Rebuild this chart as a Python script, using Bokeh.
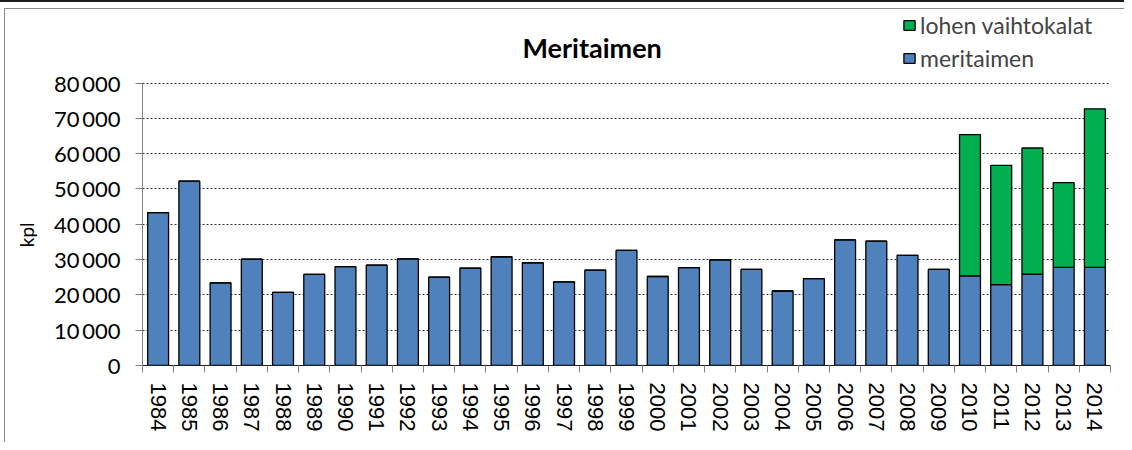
from bokeh.plotting import figure
from bokeh.models import ColumnDataSource, Range1d, FixedTicker, Legend, LegendItem, Label
from bokeh.embed import file_html
from bokeh.resources import INLINE

years = ["1984", "1985", "1986", "1987", "1988", "1989", "1990", "1991", "1992", "1993",
         "1994", "1995", "1996", "1997", "1998", "1999", "2000", "2001", "2002", "2003",
         "2004", "2005", "2006", "2007", "2008", "2009", "2010", "2011", "2012", "2013", "2014"]
meritaimen = [43300, 52200, 23400, 30100, 20700, 25800, 28000, 28400, 30200, 25000,
              27600, 30800, 29100, 23700, 27000, 32600, 25200, 27700, 29900, 27200,
              21100, 24600, 35600, 35200, 31200, 27200, 25400, 22900, 25900, 27800, 27800]
lohen_vaihtokalat = [0, 0, 0, 0, 0, 0, 0, 0, 0, 0,
                     0, 0, 0, 0, 0, 0, 0, 0, 0, 0,
                     0, 0, 0, 0, 0, 0, 40000, 33800, 35700, 24000, 44900]
y_ticks = [0, 10000, 20000, 30000, 40000, 50000, 60000, 70000, 80000]
series_names = ["meritaimen", "lohen vaihtokalat"]
title_text = "Meritaimen"
y_label = "kpl"

BLUE = "#4F81BD"
GREEN = "#00B050"

# layout (pixels)
W, H = 1124, 442
FRAME_LEFT, FRAME_RIGHT, FRAME_TOP, FRAME_BOTTOM = 142, 1110, 4, 365
AXIS_TOP_PX = 82.5  # where 80 000 sits
PX_PER_UNIT = (FRAME_BOTTOM - AXIS_TOP_PX) / max(y_ticks)
y_top = (FRAME_BOTTOM - FRAME_TOP) / PX_PER_UNIT
TITLE_BASELINE_PX = 47

xs = list(range(len(years)))
src = ColumnDataSource(dict(x=xs, meritaimen=meritaimen, lohen=lohen_vaihtokalat))

p = figure(width=W, height=H, output_backend="svg", toolbar_location=None,
           x_range=Range1d(-0.5, len(years) - 0.5), y_range=Range1d(0, y_top),
           min_border_left=FRAME_LEFT, min_border_right=W - FRAME_RIGHT,
           min_border_top=FRAME_TOP, min_border_bottom=H - FRAME_BOTTOM)
p.outline_line_color = None
p.background_fill_alpha = 0
p.border_fill_alpha = 0
p.styles = {
    "background-color": "white",
    "background-image": "linear-gradient(#1a1a1a,#1a1a1a), linear-gradient(#8c8c8c,#8c8c8c), linear-gradient(#8c8c8c,#8c8c8c)",
    "background-size": "100% 2px, 100% 1px, 1px 100%",
    "background-position": "0px 0px, 4px 8px, 4px 8px",
    "background-repeat": "no-repeat",
}

rs = p.vbar_stack(["meritaimen", "lohen"], x="x", width=0.67, source=src,
                  fill_color=[BLUE, GREEN], line_color="black", line_width=1.3)

# x axis
xa = p.xaxis[0]
xa.ticker = FixedTicker(ticks=xs, minor_ticks=[i - 0.5 for i in range(len(years) + 1)])
xa.major_label_overrides = {i: y for i, y in zip(xs, years)}
xa.major_label_orientation = "vertical"
xa.major_label_text_font = "Liberation Sans"
xa.major_label_text_font_size = "22px"
xa.major_label_text_color = "black"
xa.major_label_standoff = 10
xa.major_tick_out = 0
xa.major_tick_in = 0
xa.minor_tick_out = 7
xa.minor_tick_in = 0
xa.minor_tick_line_color = "#808080"
xa.axis_line_color = "#202020"
xa.axis_line_width = 1.2

# y axis
ya = p.yaxis[0]
ya.bounds = (0, max(y_ticks))
ya.ticker = FixedTicker(ticks=y_ticks)
ya.major_label_overrides = {t: f"{t:,}".replace(",", "\u2009") for t in y_ticks}
ya.major_label_text_font = "Lato"
ya.major_label_text_font_size = "22px"
ya.major_label_text_color = "black"
ya.major_label_standoff = 15
ya.major_tick_out = 7
ya.major_tick_in = 0
ya.major_tick_line_color = "#808080"
ya.minor_tick_line_color = None
ya.axis_line_color = "#808080"
# em spaces shift the centred label down to the middle of the 0..80 000 span
ya.axis_label = y_label + "\u2003" * 7
ya.axis_label_text_font = "Lato"
ya.axis_label_text_font_size = "19px"
ya.axis_label_text_font_style = "normal"
ya.axis_label_text_color = "black"
ya.axis_label_standoff = 13

p.xgrid.grid_line_color = None
p.ygrid.ticker = FixedTicker(ticks=y_ticks)
p.ygrid.grid_line_color = "#303030"
p.ygrid.grid_line_dash = "2 2"
p.ygrid.grid_line_width = 1

# title
p.add_layout(Label(x=13.9, y=(FRAME_BOTTOM - TITLE_BASELINE_PX) / PX_PER_UNIT, text=title_text,
                   text_align="center", text_baseline="alphabetic", text_font="Lato",
                   text_font_style="bold", text_font_size="27px", text_color="black"))

legend = Legend(items=[LegendItem(label=series_names[1], renderers=[rs[1]]),
                       LegendItem(label=series_names[0], renderers=[rs[0]])],
                location=(760, 293), orientation="vertical")
legend.padding = 0
legend.margin = 0
legend.border_line_color = None
legend.background_fill_alpha = 0
legend.label_text_font = "Lato"
legend.label_text_font_size = "23px"
legend.glyph_width = 14
legend.glyph_height = 12
legend.label_standoff = 4
legend.spacing = 5
legend.label_height = 28
p.add_layout(legend)

open("out.html", "w").write(file_html(p, INLINE))
